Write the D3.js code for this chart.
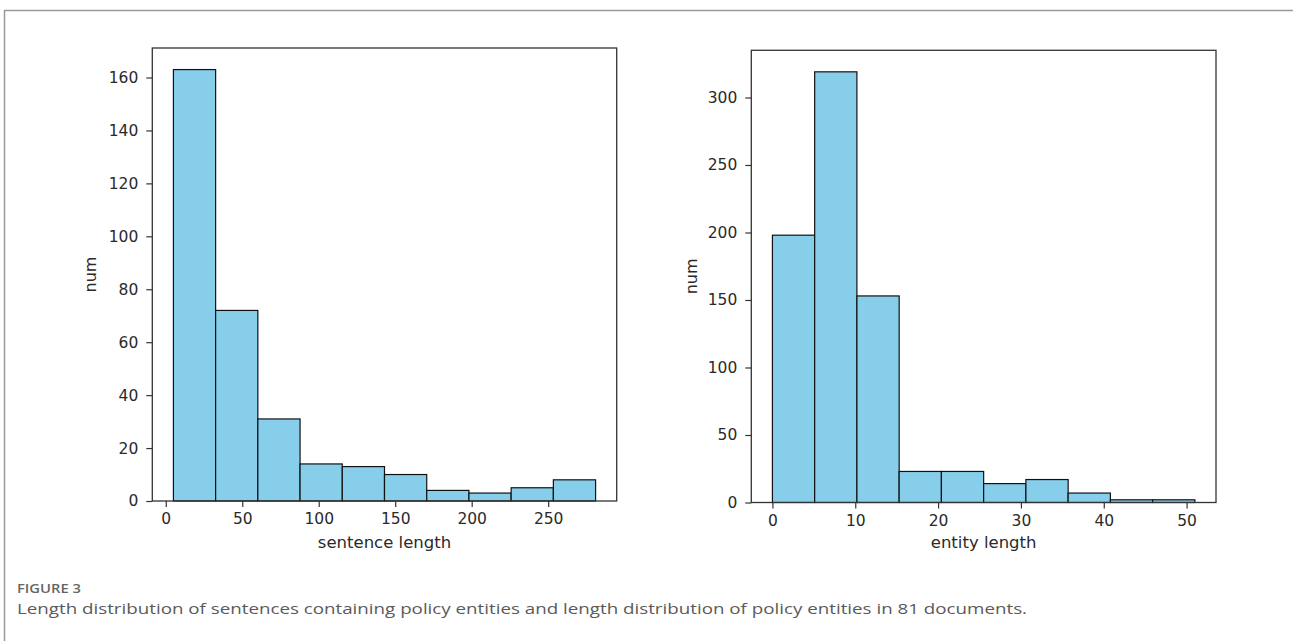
<!DOCTYPE html>
<html>
<head>
<meta charset="utf-8">
<script src="https://cdn.jsdelivr.net/npm/d3@7"></script>
<style>
  html, body { margin: 0; padding: 0; background: #fff; }
  svg { display: block; }
</style>
</head>
<body>
<svg id="chart" width="1293" height="641"></svg>
<script>
// ---- data ----
const sentenceRange = [5, 281];          // histogram data min / max
const sentenceCounts = [163, 72, 31, 14, 13, 10, 4, 3, 5, 8];
const sentenceXTicks = [0, 50, 100, 150, 200, 250];
const sentenceYTicks = [0, 20, 40, 60, 80, 100, 120, 140, 160];

const entityRange = [0, 51];
const entityCounts = [198, 319, 153, 23, 23, 14, 17, 7, 2, 2];
const entityXTicks = [0, 10, 20, 30, 40, 50];
const entityYTicks = [0, 50, 100, 150, 200, 250, 300];

const xLabels = ["sentence length", "entity length"];
const yLabel = "num";
const figLabel = "FIGURE 3";
const captionText = "Length distribution of sentences containing policy entities and length distribution of policy entities in 81 documents.";

const svg = d3.select("#chart");
const FONT = "'DejaVu Sans', sans-serif";

// frame
svg.append("line").attr("x1", 4).attr("x2", 1293).attr("y1", 10.5).attr("y2", 10.5)
  .attr("stroke", "#999").attr("stroke-width", 1.5);
svg.append("line").attr("x1", 4.5).attr("x2", 4.5).attr("y1", 10).attr("y2", 641)
  .attr("stroke", "#999").attr("stroke-width", 1.5);

function drawHist(cfg) {
  const { left, right, top, bottom, range, counts, xTicks, yTicks, xLabel, yLabelX } = cfg;
  const n = counts.length;
  const span = range[1] - range[0];
  const edges = d3.range(n + 1).map(i => range[0] + span * i / n);
  const x = d3.scaleLinear()
    .domain([range[0] - 0.05 * span, range[1] + 0.05 * span])
    .range([left, right]);
  const y = d3.scaleLinear()
    .domain([0, d3.max(counts) * 1.05])
    .range([bottom, top]);

  const g = svg.append("g");
  g.selectAll("rect.bar").data(counts).join("rect")
    .attr("class", "bar")
    .attr("x", (d, i) => x(edges[i]))
    .attr("width", (d, i) => x(edges[i + 1]) - x(edges[i]))
    .attr("y", d => y(d))
    .attr("height", d => y(0) - y(d))
    .attr("fill", "#87CEEB")
    .attr("stroke", "#111")
    .attr("stroke-width", 1.2);

  g.append("rect")
    .attr("x", left).attr("y", top)
    .attr("width", right - left).attr("height", bottom - top)
    .attr("fill", "none").attr("stroke", "#333").attr("stroke-width", 1.3);

  const xAxis = d3.axisBottom(x).tickValues(xTicks).tickSize(6).tickPadding(6).tickFormat(d3.format("d"));
  const yAxis = d3.axisLeft(y).tickValues(yTicks).tickSize(6).tickPadding(8).tickFormat(d3.format("d"));

  const gx = g.append("g").attr("transform", `translate(0,${bottom})`).call(xAxis);
  const gy = g.append("g").attr("transform", `translate(${left},0)`).call(yAxis);
  [gx, gy].forEach(a => {
    a.select(".domain").remove();
    a.selectAll(".tick line").attr("stroke", "#333").attr("stroke-width", 1.2);
    a.selectAll(".tick text")
      .attr("fill", "#2a2a2a")
      .style("font-family", FONT)
      .style("font-size", "15.5px");
  });

  g.append("text")
    .attr("x", (left + right) / 2).attr("y", 548)
    .attr("text-anchor", "middle")
    .attr("fill", "#2a2a2a")
    .style("font-family", FONT)
    .style("font-size", "16.5px")
    .text(xLabel);

  g.append("text")
    .attr("transform", `translate(${yLabelX},${(top + bottom) / 2}) rotate(-90)`)
    .attr("text-anchor", "middle")
    .attr("fill", "#2a2a2a")
    .style("font-family", FONT)
    .style("font-size", "16px")
    .text(yLabel);
}

drawHist({ left: 152.3, right: 616.7, top: 48, bottom: 501,
  range: sentenceRange, counts: sentenceCounts, xTicks: sentenceXTicks, yTicks: sentenceYTicks,
  xLabel: xLabels[0], yLabelX: 96 });

drawHist({ left: 751.3, right: 1216, top: 50.3, bottom: 502.5,
  range: entityRange, counts: entityCounts, xTicks: entityXTicks, yTicks: entityYTicks,
  xLabel: xLabels[1], yLabelX: 697 });

// caption
svg.append("text")
  .attr("x", 17).attr("y", 593)
  .attr("fill", "#666")
  .attr("textLength", 64).attr("lengthAdjust", "spacingAndGlyphs")
  .style("font-family", "'Open Sans', sans-serif")
  .style("font-size", "12px")
  .style("font-weight", 600)
  .text(figLabel);

svg.append("text")
  .attr("x", 17).attr("y", 614)
  .attr("fill", "#5a5a5a")
  .attr("textLength", 1010).attr("lengthAdjust", "spacingAndGlyphs")
  .style("font-family", "'Open Sans', sans-serif")
  .style("font-size", "15px")
  .text(captionText);
</script>
</body>
</html>
